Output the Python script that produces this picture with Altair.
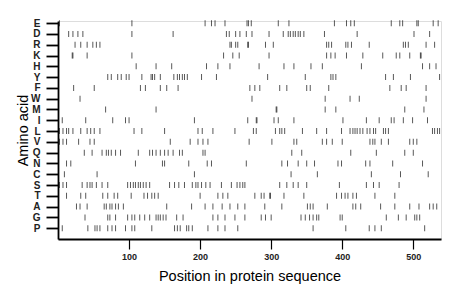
import altair as alt
import pandas as pd

amino_acids = ["E", "D", "R", "K", "H", "Y", "F", "W", "M", "I",
               "L", "V", "Q", "N", "C", "S", "T", "A", "G", "P"]

pos_E = [2, 104, 207, 216, 221, 235, 266, 268, 272, 310, 325, 389, 406, 412, 417,
         469, 481, 485, 505, 507, 528, 535]
pos_D = [15, 21, 28, 35, 104, 162, 237, 241, 250, 256, 265, 273, 297, 317, 324, 327,
         331, 334, 338, 341, 346, 375, 421, 501, 523]
pos_R = [24, 32, 41, 49, 54, 59, 242, 244, 250, 253, 267, 268, 292, 303, 378, 381, 385,
         405, 408, 413, 438, 486, 489, 493, 518, 530]
pos_K = [20, 21, 41, 104, 233, 246, 255, 297, 378, 384, 390, 406, 429, 457, 476, 481,
         495, 510, 511]
pos_H = [110, 138, 160, 209, 225, 242, 283, 318, 332, 356, 372, 427, 513, 523, 532]
pos_Y = [70, 75, 84, 89, 96, 100, 118, 131, 133, 136, 144, 163, 168, 171, 175, 178,
         182, 202, 223, 295, 348, 384, 387, 391, 461, 472, 496, 537]
pos_F = [22, 51, 116, 123, 144, 153, 169, 270, 277, 284, 312, 322, 350, 355, 381,
         467, 483, 490, 518]
pos_W = [31, 273, 376, 411, 424, 518]
pos_M = [67, 138, 307, 308, 376, 391, 488, 515]
pos_I = [6, 39, 77, 95, 100, 192, 267, 279, 280, 304, 310, 332, 401, 434, 452, 469,
         473, 486, 499, 520]
pos_L = [2, 7, 12, 15, 21, 32, 41, 46, 51, 59, 107, 118, 150, 197, 203, 218, 249, 275,
         279, 306, 312, 315, 319, 344, 364, 378, 399, 411, 415, 418, 421, 425, 429,
         435, 439, 444, 447, 458, 461, 465, 527, 530, 534, 537]
pos_V = [1, 2, 7, 12, 29, 45, 51, 158, 186, 197, 204, 211, 269, 301, 332, 336, 372,
         378, 386, 400, 439, 443, 446, 455, 465, 495, 500, 505]
pos_Q = [37, 48, 62, 68, 71, 75, 81, 88, 113, 129, 133, 138, 144, 150, 155, 162, 171,
         175, 204, 207, 329, 343, 412, 448, 488, 500]
pos_N = [12, 18, 109, 147, 150, 184, 210, 216, 265, 315, 323, 338, 350, 361, 394, 399,
         433, 439, 471, 513]
pos_C = [9, 55, 192, 328, 365, 441, 482, 521]
pos_S = [2, 7, 12, 34, 41, 45, 48, 54, 62, 70, 98, 102, 106, 109, 113, 116, 120, 124,
         129, 157, 164, 170, 178, 189, 194, 197, 202, 208, 214, 230, 244, 252, 256, 260,
         263, 312, 322, 331, 338, 350, 396, 434, 444, 452, 480]
pos_T = [12, 32, 39, 63, 70, 79, 84, 103, 121, 126, 132, 136, 141, 200, 225, 232, 239,
         277, 286, 290, 298, 299, 318, 346, 392, 399, 404, 408, 415, 420, 446, 474]
pos_A = [26, 31, 41, 65, 68, 73, 76, 81, 85, 92, 153, 188, 207, 218, 231, 242, 253,
         263, 291, 315, 351, 355, 359, 379, 415, 419, 426, 454, 474, 495, 508, 523,
         528, 533]
pos_G = [38, 70, 73, 81, 98, 104, 108, 115, 122, 129, 138, 141, 144, 148, 152, 167,
         176, 218, 225, 235, 249, 263, 286, 292, 300, 342, 348, 354, 359, 364, 367, 397,
         400, 462, 479, 490, 502, 505, 509]
pos_P = [6, 42, 52, 55, 59, 70, 76, 81, 95, 104, 108, 132, 164, 168, 172, 181, 184, 189,
         211, 225, 235, 253, 359, 405, 438, 446, 455, 516]

positions = [pos_E, pos_D, pos_R, pos_K, pos_H, pos_Y, pos_F, pos_W, pos_M, pos_I,
             pos_L, pos_V, pos_Q, pos_N, pos_C, pos_S, pos_T, pos_A, pos_G, pos_P]

x_ticks = [100, 200, 300, 400, 500]

rows = []
for i, (aa, plist) in enumerate(zip(amino_acids, positions)):
    for p in plist:
        rows.append({"aa": aa, "row": i, "pos": p})
df = pd.DataFrame(rows)

label_expr = "[" + ",".join("'%s'" % a for a in amino_acids) + "][datum.value]"

font = "Liberation Sans"

chart = alt.Chart(df).mark_tick(
    orient="vertical", size=6, thickness=1, color="#111111"
).encode(
    x=alt.X("pos:Q",
            scale=alt.Scale(domain=[0, 539], nice=False, zero=False),
            axis=alt.Axis(title="Position in protein sequence", values=x_ticks,
                          grid=False, tickSize=10, tickColor="black", tickWidth=1.2,
                          domainColor="black", domainWidth=1.8,
                          labelFont=font, labelFontSize=9, labelFontWeight="bold",
                          labelColor="#222222", labelPadding=3,
                          titleFont=font, titleFontSize=14.5, titleFontWeight="normal",
                          titleColor="black", titlePadding=8)),
    y=alt.Y("row:Q",
            scale=alt.Scale(domain=[-0.2, 20.0], reverse=True, nice=False, zero=False),
            axis=alt.Axis(title="Amino acid", values=list(range(20)),
                          labelExpr=label_expr, grid=False, tickSize=12,
                          tickColor="black", tickWidth=1.8,
                          domainColor="black", domainWidth=1.8,
                          labelFont=font, labelFontSize=10, labelFontWeight="bold",
                          labelColor="#222222", labelPadding=6,
                          titleFont=font, titleFontSize=14.5, titleFontWeight="normal",
                          titleColor="black", titlePadding=0)),
).properties(
    width=383, height=218,
    autosize=alt.AutoSizeParams(type="none"),
    padding={"left": 58, "top": 21, "right": 19, "bottom": 60},
).configure_view(
    stroke=None
).configure(
    background="white"
)

chart.save("out.html", embed_options={"renderer": "svg", "actions": False})
